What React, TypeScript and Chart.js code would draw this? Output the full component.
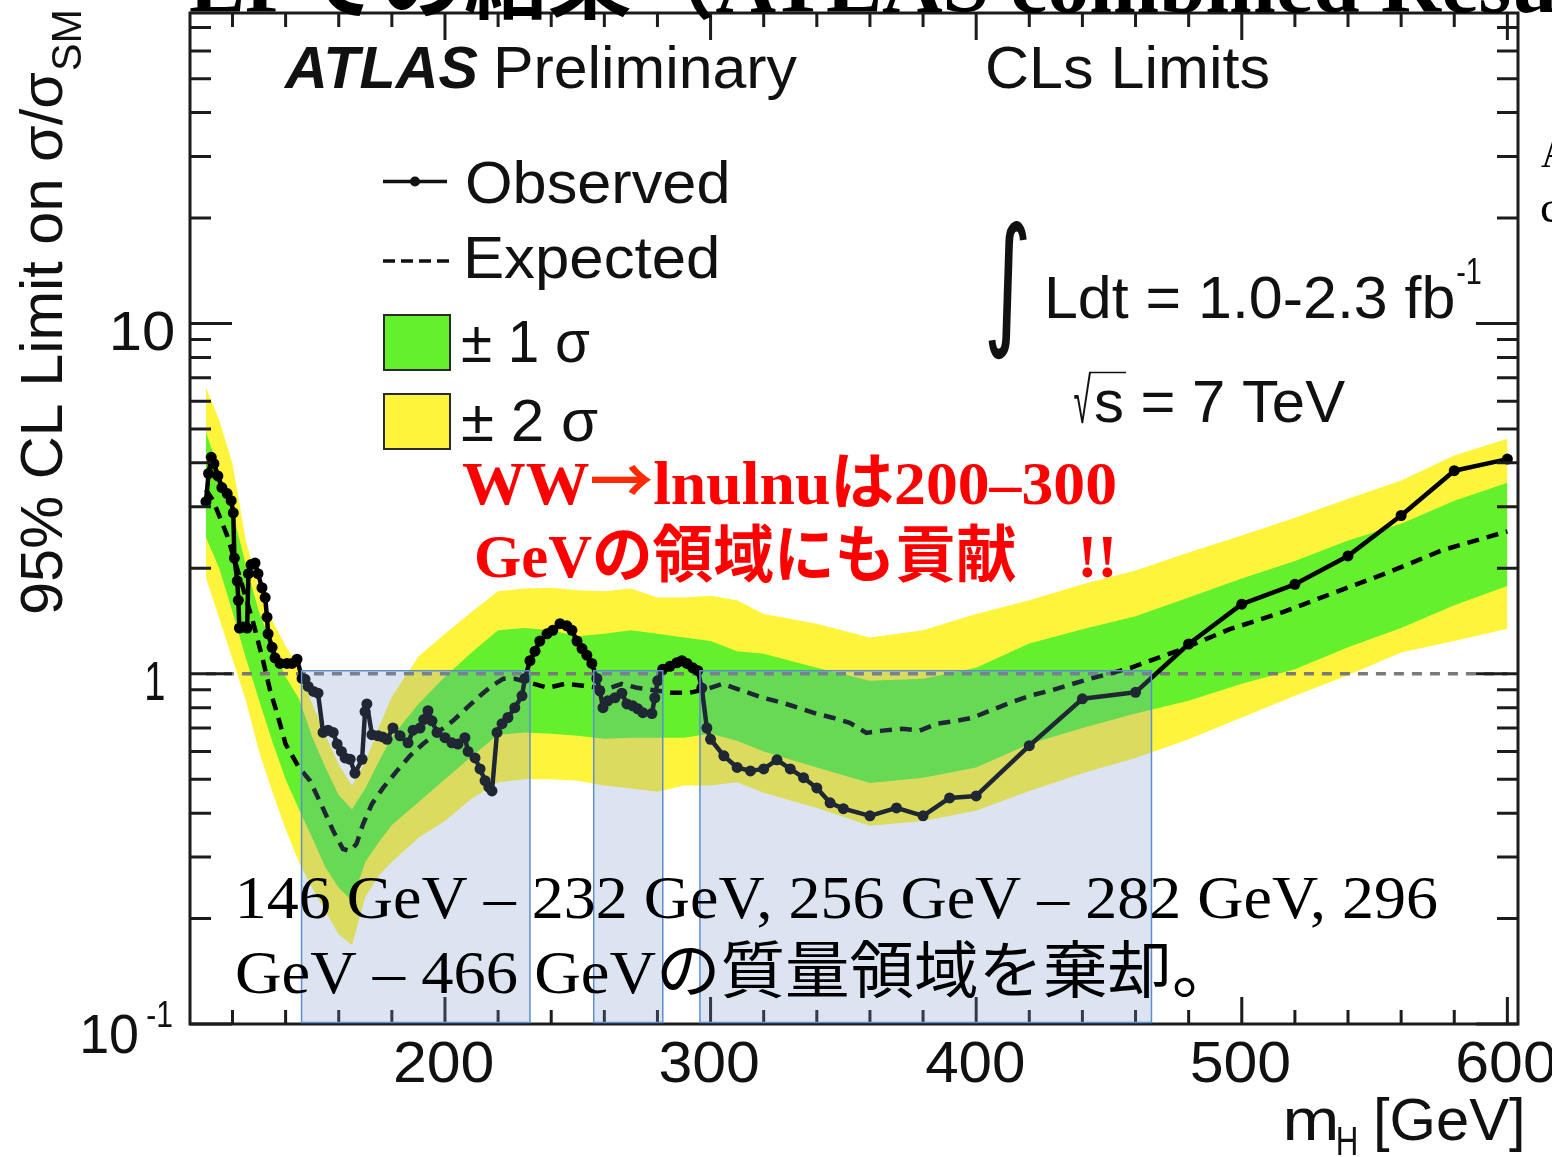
import React, { useEffect, useRef } from "react";
import { Chart, registerables } from "chart.js";

Chart.register(...registerables);

// ---- data -------------------------------------------------------------
// Observed 95% CL upper limit on sigma/sigma_SM versus Higgs mass (GeV)
const obsMass = [110, 111, 112, 113, 114.5, 116, 118, 119.5, 120.3, 120.7, 121.8, 122.2, 122.6, 124, 125.5, 126, 127, 128.5, 129.6, 131.1, 132.3, 133, 133.4, 134.9, 136, 137.9, 140.5, 142.4, 144.3, 146.2, 147.3, 148.5, 150.5, 152.2, 154.1, 156, 157.9, 159.4, 161, 162.4, 164.3, 166.1, 168.8, 169.9, 170.6, 172.5, 174.8, 176.5, 178.2, 180.4, 183.1, 186.1, 188, 190.6, 192, 193.6, 195.1, 197, 200, 202.6, 204.9, 207.5, 208.7, 211.3, 213.2, 215.1, 216.5, 217.7, 219.6, 221.5, 223.7, 226.3, 229, 230.1, 232, 233.9, 235.7, 238.4, 240.6, 243.3, 245.9, 247.8, 249.7, 251.6, 253.4, 255.3, 257.2, 258.3, 259.5, 261.3, 264, 266.6, 268.5, 270.7, 272.6, 274.5, 277.9, 279, 280.1, 282, 284.7, 287.3, 289.2, 291.1, 293.3, 295.2, 296.7, 298.6, 300, 305, 310, 315, 320, 325, 330, 335, 340, 345, 350, 360, 370, 380, 390, 400, 420, 440, 460, 480, 500, 520, 540, 560, 580, 600];
const obsLimit = [3.1, 3.73, 4.15, 3.98, 3.67, 3.4, 3.27, 3.12, 2.88, 2.14, 1.84, 1.62, 1.35, 1.36, 1.35, 1.93, 2.05, 2.07, 1.93, 1.76, 1.65, 1.45, 1.3, 1.19, 1.11, 1.07, 1.07, 1.07, 1.1, 0.97, 0.965, 0.92, 0.89, 0.88, 0.68, 0.69, 0.68, 0.63, 0.6, 0.575, 0.57, 0.52, 0.57, 0.78, 0.82, 0.67, 0.665, 0.66, 0.65, 0.7, 0.665, 0.635, 0.69, 0.7, 0.74, 0.784, 0.734, 0.68, 0.657, 0.635, 0.63, 0.657, 0.6, 0.575, 0.535, 0.495, 0.475, 0.463, 0.68, 0.72, 0.75, 0.8, 0.865, 0.97, 1.09, 1.16, 1.24, 1.3, 1.33, 1.39, 1.37, 1.33, 1.24, 1.18, 1.13, 1.07, 0.97, 0.894, 0.8, 0.837, 0.854, 0.88, 0.82, 0.81, 0.794, 0.774, 0.77, 0.854, 0.955, 1.03, 1.05, 1.075, 1.09, 1.07, 1.04, 1.02, 0.91, 0.7, 0.65, 0.583, 0.54, 0.528, 0.535, 0.568, 0.535, 0.505, 0.472, 0.428, 0.412, 0.393, 0.414, 0.393, 0.442, 0.448, 0.623, 0.848, 0.885, 1.216, 1.58, 1.8, 2.17, 2.83, 3.8, 4.1];

// Median expected limit
const expMass = [110, 112.7, 115.3, 118, 122.9, 127.8, 131.5, 134.2, 136.8, 140, 145, 149.2, 154, 157.9, 161.6, 164.3, 166.7, 169.2, 172.5, 176.7, 181.9, 186.8, 191.8, 197, 203, 208.3, 213.2, 217.7, 221.9, 226.3, 232, 238.8, 245.2, 252, 261, 266.6, 272.2, 285.4, 292.2, 299, 304.6, 312.1, 319.6, 327.2, 339.9, 345.9, 352.4, 358.7, 364.8, 372.3, 378.7, 385.2, 392.6, 398.7, 405.1, 412.6, 420.1, 427.7, 435.2, 442.7, 450.2, 458.2, 475.5, 495.5, 515.5, 535.4, 555.4, 575.3, 600];
const expLimit = [3.35, 3.12, 2.79, 2.48, 1.87, 1.4, 1.09, 0.894, 0.77, 0.63, 0.54, 0.495, 0.414, 0.356, 0.316, 0.312, 0.327, 0.373, 0.425, 0.472, 0.528, 0.583, 0.631, 0.678, 0.734, 0.8, 0.865, 0.924, 0.967, 0.967, 0.943, 0.912, 0.936, 0.924, 0.906, 0.936, 0.912, 0.883, 0.883, 0.906, 0.936, 0.894, 0.854, 0.826, 0.769, 0.749, 0.724, 0.678, 0.688, 0.697, 0.688, 0.72, 0.734, 0.749, 0.784, 0.825, 0.865, 0.894, 0.93, 0.967, 1.0, 1.04, 1.16, 1.34, 1.5, 1.71, 1.95, 2.25, 2.55];

// +-1 sigma and +-2 sigma bands around the expected limit
const bandMass = [110, 115, 120, 125, 130, 135, 140, 145, 150, 155, 160, 165, 170, 175, 180, 190, 200, 210, 220, 230, 240, 250, 260, 270, 280, 290, 300, 310, 320, 340, 360, 380, 400, 420, 440, 460, 480, 500, 520, 540, 560, 580, 600];
const band2Lo = [1.88, 1.44, 1.1, 0.84, 0.6, 0.46, 0.36, 0.29, 0.245, 0.21, 0.18, 0.168, 0.23, 0.265, 0.29, 0.34, 0.38, 0.44, 0.49, 0.5, 0.5, 0.495, 0.48, 0.47, 0.46, 0.48, 0.48, 0.49, 0.457, 0.414, 0.368, 0.38, 0.406, 0.463, 0.52, 0.575, 0.65, 0.75, 0.865, 0.99, 1.15, 1.24, 1.345];
const band1Lo = [2.45, 2.0, 1.5, 1.11, 0.84, 0.64, 0.5, 0.41, 0.34, 0.28, 0.245, 0.225, 0.29, 0.33, 0.37, 0.43, 0.5, 0.58, 0.67, 0.68, 0.674, 0.665, 0.652, 0.657, 0.657, 0.657, 0.674, 0.644, 0.6, 0.54, 0.488, 0.505, 0.54, 0.63, 0.7, 0.77, 0.837, 0.936, 1.03, 1.19, 1.35, 1.57, 1.78];
const band1Hi = [4.9, 3.8, 2.9, 2.05, 1.5, 1.2, 0.98, 0.85, 0.66, 0.54, 0.45, 0.41, 0.47, 0.56, 0.66, 0.82, 0.98, 1.15, 1.33, 1.35, 1.33, 1.28, 1.3, 1.33, 1.3, 1.27, 1.24, 1.16, 1.14, 1.04, 0.955, 0.967, 1.04, 1.22, 1.34, 1.46, 1.65, 1.87, 2.1, 2.4, 2.68, 3.12, 3.51];
const band2Hi = [6.56, 5.3, 3.98, 2.4, 1.75, 1.42, 1.2, 1.04, 0.82, 0.67, 0.55, 0.48, 0.56, 0.7, 0.86, 1.12, 1.3, 1.5, 1.72, 1.75, 1.76, 1.73, 1.72, 1.75, 1.65, 1.65, 1.67, 1.62, 1.48, 1.39, 1.27, 1.33, 1.48, 1.62, 1.8, 1.97, 2.22, 2.48, 2.79, 3.16, 3.56, 4.2, 4.69];

// SM reference line (sigma/sigma_SM = 1)
const smMass = [110, 600];
const smLimit = [1, 1];

// Excluded mass ranges (GeV)
const excludedLo = [146, 256, 296];
const excludedHi = [232, 282, 466];

// Axis ticks and labels
const xMajorTicks = [200, 300, 400, 500, 600];
const xTickLabels = ["200", "300", "400", "500", "600"];
const xMinorTicks = [120, 140, 160, 180, 220, 240, 260, 280, 320, 340, 360, 380, 420, 440, 460, 480, 520, 540, 560, 580];
const yMajorTicks = [0.1, 1, 10];
const yMinorTicks = [0.2, 0.3, 0.4, 0.5, 0.6, 0.7, 0.8, 0.9, 2, 3, 4, 5, 6, 7, 8, 9, 20, 30, 40, 50, 60, 70];

// ---- styling ----------------------------------------------------------
const W = 1552;
const H = 1157;
const GREEN = "#64f02d";
const YELLOW = "#fff43c";
const INK = "#111111";
const AXIS = "#1c1c1c";
const SANS = "'Liberation Sans', Arial, sans-serif";
const SERIF = "'Liberation Serif', 'Noto Sans CJK JP', serif";
const CJK = "'Noto Sans CJK JP', sans-serif";

type Run = { text: string; font: string; color: string };

// Draw a sequence of text runs on one baseline so that the ink spans x0..x1.
function drawRuns(ctx: CanvasRenderingContext2D, runs: Run[], x0: number, x1: number, baseline: number, tail: Run[] = []) {
  ctx.save();
  const adv: number[] = [];
  for (const r of runs) {
    ctx.font = r.font;
    adv.push(ctx.measureText(r.text).width);
  }
  ctx.font = runs[0].font;
  const lb = ctx.measureText(runs[0].text).actualBoundingBoxLeft;
  const last = runs[runs.length - 1];
  ctx.font = last.font;
  const rb = ctx.measureText(last.text).actualBoundingBoxRight;
  let before = 0;
  for (let i = 0; i < runs.length - 1; i++) before += adv[i];
  const s = (x1 - x0) / (lb + before + rb);
  ctx.translate(x0, baseline);
  ctx.scale(s, 1);
  ctx.textAlign = "left";
  ctx.textBaseline = "alphabetic";
  let pen = lb;
  for (const r of runs.concat(tail)) {
    ctx.font = r.font;
    ctx.fillStyle = r.color;
    ctx.fillText(r.text, pen, 0);
    pen += ctx.measureText(r.text).width;
  }
  ctx.restore();
}

function drawText(ctx: CanvasRenderingContext2D, text: string, font: string, color: string, x0: number, x1: number, baseline: number) {
  drawRuns(ctx, [{ text, font, color }], x0, x1, baseline);
}

// Draw a glyph stretched so its ink fills the given box.
function drawInBox(ctx: CanvasRenderingContext2D, text: string, font: string, color: string, x0: number, x1: number, y0: number, y1: number) {
  ctx.save();
  ctx.font = font;
  const m = ctx.measureText(text);
  const w = m.actualBoundingBoxLeft + m.actualBoundingBoxRight;
  const h = m.actualBoundingBoxAscent + m.actualBoundingBoxDescent;
  ctx.translate(x0, y0);
  ctx.scale((x1 - x0) / w, (y1 - y0) / h);
  ctx.fillStyle = color;
  ctx.textAlign = "left";
  ctx.textBaseline = "alphabetic";
  ctx.fillText(text, m.actualBoundingBoxLeft, m.actualBoundingBoxAscent);
  ctx.restore();
}

const frameAndBoxes = {
  id: "frameAndBoxes",
  afterDatasetsDraw(chart: any) {
    const { ctx, chartArea: a } = chart;
    const xs = chart.scales.x;
    const ys = chart.scales.y;
    ctx.save();
    // ticks on all four sides, pointing inwards
    ctx.strokeStyle = AXIS;
    ctx.lineWidth = 3;
    ctx.beginPath();
    const xTick = (v: number, len: number) => {
      const p = xs.getPixelForValue(v);
      ctx.moveTo(p, a.bottom);
      ctx.lineTo(p, a.bottom - len);
      ctx.moveTo(p, a.top);
      ctx.lineTo(p, a.top + len);
    };
    const yTick = (v: number, len: number) => {
      const p = ys.getPixelForValue(v);
      ctx.moveTo(a.left, p);
      ctx.lineTo(a.left + len, p);
      ctx.moveTo(a.right, p);
      ctx.lineTo(a.right - len, p);
    };
    xMajorTicks.forEach((v) => xTick(v, 27));
    xMinorTicks.forEach((v) => xTick(v, 14));
    yMajorTicks.forEach((v) => yTick(v, 42));
    yMinorTicks.forEach((v) => yTick(v, 21));
    ctx.stroke();
    ctx.strokeRect(a.left, a.top, a.right - a.left, a.bottom - a.top);

    // excluded mass ranges
    const top = ys.getPixelForValue(1.02);
    const bottom = ys.getPixelForValue(0.101);
    for (let i = 0; i < excludedLo.length; i++) {
      const l = xs.getPixelForValue(excludedLo[i]);
      const r = xs.getPixelForValue(excludedHi[i]);
      ctx.fillStyle = "rgba(114,150,196,0.26)";
      ctx.fillRect(l, top, r - l, bottom - top);
      ctx.strokeStyle = "#5d8ed2";
      ctx.lineWidth = 1.5;
      ctx.strokeRect(l, top, r - l, bottom - top);
    }
    ctx.restore();
  },
  afterDraw(chart: any) {
    const ctx: CanvasRenderingContext2D = chart.ctx;
    const xs = chart.scales.x;
    ctx.save();

    // slide title running along the top edge
    drawRuns(
      ctx,
      [{ text: "LPでの結果（ATLAS combined Resu", font: `bold 84px ${SERIF}`, color: "#000" }],
      190, 1556, 12,
      [{ text: "lts）", font: `bold 84px ${SERIF}`, color: "#000" }]
    );
    drawText(ctx, "A", `44px ${SERIF}`, "#000", 1541, 1570, 167);
    drawText(ctx, "c", `44px ${SERIF}`, "#000", 1541, 1560, 222);

    // y axis tick labels
    drawText(ctx, "10", `56px ${SANS}`, INK, 113, 173, 350);
    drawText(ctx, "1", `56px ${SANS}`, INK, 147, 164, 700);
    drawText(ctx, "10", `56px ${SANS}`, INK, 83, 137, 1053);
    drawText(ctx, "-1", `36px ${SANS}`, INK, 147, 172, 1027);

    // x axis tick labels
    xMajorTicks.forEach((v, i) => {
      const c = xs.getPixelForValue(v) - 1.5;
      drawText(ctx, xTickLabels[i], `58px ${SANS}`, INK, c - 48.5, c + 48.5, 1082);
    });

    // axis titles
    drawText(ctx, "m", `60px ${SANS}`, INK, 1286, 1336, 1140);
    drawText(ctx, "H", `40px ${SANS}`, INK, 1338, 1356, 1155);
    drawText(ctx, "[GeV]", `60px ${SANS}`, INK, 1377, 1522, 1140);

    ctx.save();
    ctx.translate(62, 613);
    ctx.rotate(-Math.PI / 2);
    drawText(ctx, "95% CL Limit on σ/σ", `60px ${SANS}`, INK, 0, 541, 0);
    drawText(ctx, "SM", `42px ${SANS}`, INK, 543, 601, 19);
    ctx.restore();

    // header labels
    drawText(ctx, "ATLAS", `italic bold 60px ${SANS}`, INK, 283, 478, 88);
    drawText(ctx, "Preliminary", `60px ${SANS}`, INK, 497, 797, 88);
    drawText(ctx, "CLs Limits", `60px ${SANS}`, INK, 988, 1268, 88);

    // legend
    ctx.strokeStyle = INK;
    ctx.lineWidth = 3.5;
    ctx.beginPath();
    ctx.moveTo(383, 181.5);
    ctx.lineTo(447, 181.5);
    ctx.stroke();
    ctx.fillStyle = INK;
    ctx.beginPath();
    ctx.arc(415, 181.5, 5, 0, Math.PI * 2);
    ctx.fill();
    ctx.setLineDash([12, 6]);
    ctx.beginPath();
    ctx.moveTo(383, 261);
    ctx.lineTo(449, 261);
    ctx.stroke();
    ctx.setLineDash([]);
    ctx.lineWidth = 2;
    ctx.strokeStyle = "#2b2b2b";
    ctx.fillStyle = GREEN;
    ctx.fillRect(384, 315, 66, 55);
    ctx.strokeRect(384, 315, 66, 55);
    ctx.fillStyle = YELLOW;
    ctx.fillRect(384, 394, 66, 55);
    ctx.strokeRect(384, 394, 66, 55);
    drawText(ctx, "Observed", `60px ${SANS}`, INK, 467, 727, 203);
    drawText(ctx, "Expected", `60px ${SANS}`, INK, 467, 717, 278);
    drawText(ctx, "± 1 σ", `60px ${SANS}`, INK, 462, 590, 362);
    drawText(ctx, "± 2 σ", `60px ${SANS}`, INK, 462, 598, 441);

    // luminosity and energy
    drawInBox(ctx, "∫", `120px 'DejaVu Sans'`, INK, 988, 1027, 221, 360);
    drawText(ctx, "Ldt = 1.0-2.3 fb", `60px ${SANS}`, INK, 1048, 1453, 318);
    drawText(ctx, "-1", `36px ${SANS}`, INK, 1457, 1481, 284);
    drawInBox(ctx, "√", `60px ${SANS}`, INK, 1074, 1091, 372, 424);
    ctx.strokeStyle = INK;
    ctx.lineWidth = 1.5;
    ctx.beginPath();
    ctx.moveTo(1089, 372.5);
    ctx.lineTo(1126, 372.5);
    ctx.stroke();
    drawText(ctx, "s = 7 TeV", `60px ${SANS}`, INK, 1095, 1345, 422);

    // red annotation
    drawRuns(
      ctx,
      [
        { text: "WW", font: `bold 62px ${SERIF}`, color: "#ff0000" },
        { text: "→", font: `bold 62px ${CJK}`, color: "#ff2a00" },
        { text: "lnulnuは200–300", font: `bold 62px ${SERIF}`, color: "#ff0000" },
      ],
      462, 1115, 504
    );
    drawText(ctx, "GeVの領域にも貢献　!!", `bold 62px ${SERIF}`, "#ff0000", 477, 1113, 577);

    // excluded range note
    drawText(ctx, "146 GeV – 232 GeV, 256 GeV – 282 GeV, 296", `62px ${SERIF}`, "#000", 240, 1437, 918);
    drawText(ctx, "GeV – 466 GeVの質量領域を棄却。", `62px ${SERIF}`, "#000", 237, 1195, 993);

    ctx.restore();
  },
};

function pts(xs: number[], ys: number[]) {
  return xs.map((x, i) => ({ x, y: ys[i] }));
}

export default function App() {
  const ref = useRef<HTMLCanvasElement>(null);

  useEffect(() => {
    const canvas = ref.current;
    if (!canvas) return;
    const bandStyle = { borderWidth: 0, borderColor: "transparent", pointRadius: 0, tension: 0 };
    const chart = new Chart(canvas, {
      type: "line",
      data: {
        datasets: [
          {
            label: "Observed",
            data: pts(obsMass, obsLimit),
            borderColor: "#000",
            borderWidth: 4.5,
            pointRadius: 5.5,
            pointBackgroundColor: "#000",
            pointBorderColor: "#000",
            pointBorderWidth: 0,
            borderJoinStyle: "round",
            fill: false,
            tension: 0,
          },
          {
            label: "Expected",
            data: pts(expMass, expLimit),
            borderColor: "#000",
            borderWidth: 4.5,
            borderDash: [12, 8],
            pointRadius: 0,
            fill: false,
            tension: 0,
          },
          {
            label: "SM",
            data: pts(smMass, smLimit),
            borderColor: "#7a7a7a",
            borderWidth: 3.5,
            borderDash: [10, 8],
            pointRadius: 0,
            fill: false,
          },
          { label: "+1σ", data: pts(bandMass, band1Hi), backgroundColor: GREEN, fill: "+1", ...bandStyle },
          { label: "-1σ", data: pts(bandMass, band1Lo), fill: false, ...bandStyle },
          { label: "+2σ", data: pts(bandMass, band2Hi), backgroundColor: YELLOW, fill: "+1", ...bandStyle },
          { label: "-2σ", data: pts(bandMass, band2Lo), fill: false, ...bandStyle },
        ] as any,
      },
      options: {
        responsive: false,
        animation: false,
        devicePixelRatio: 1,
        layout: { padding: { left: 190, right: 34, top: 13, bottom: 133 } },
        scales: {
          x: { type: "linear", min: 104, max: 604, display: false },
          y: { type: "logarithmic", min: 0.1, max: 77, display: false },
        },
        plugins: { legend: { display: false }, tooltip: { enabled: false } },
        events: [],
      } as any,
      plugins: [frameAndBoxes],
    });
    return () => chart.destroy();
  }, []);

  return (
    <div style={{ position: "absolute", left: 0, top: 0, width: W, height: H, background: "#fff", overflow: "hidden" }}>
      <canvas ref={ref} width={W} height={H} style={{ width: W, height: H, display: "block" }} />
    </div>
  );
}
